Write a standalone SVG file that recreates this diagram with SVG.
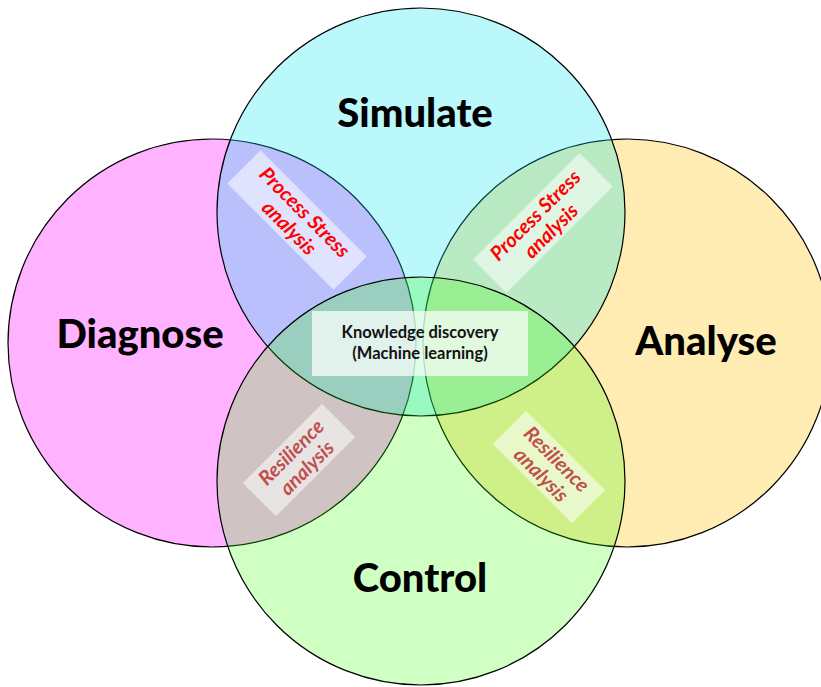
<svg xmlns="http://www.w3.org/2000/svg" width="821" height="687" viewBox="0 0 821 687">
  <style>
    .ring { stroke: #000; stroke-width: 1.2; }
    .big { font-family: Lato, "Liberation Sans", sans-serif; font-weight: 900; font-size: 40px; fill: #000; text-anchor: middle; }
    .tag { fill: #fff; fill-opacity: 0.55; }
    .note { font-family: Lato, "Liberation Sans", sans-serif; font-weight: bold; font-style: italic; font-size: 20px; text-anchor: middle; }
    .stress { fill: #ff0000; }
    .resil { fill: #c0504d; }
    .core { font-family: Lato, "Liberation Sans", sans-serif; font-weight: bold; font-size: 16.5px; fill: #111; text-anchor: middle; }
  </style>
  <rect width="821" height="687" fill="#fff"/>

  <!-- four overlapping translucent circles -->
  <g id="diagnose">
    <circle class="ring" cx="212" cy="343" r="204" fill="#ff00ff" fill-opacity="0.3"/>
  </g>
  <g id="analyse">
    <circle class="ring" cx="627" cy="343" r="204" fill="#ffc000" fill-opacity="0.3"/>
  </g>
  <g id="simulate">
    <circle class="ring" cx="421" cy="212" r="204" fill="#00e6f0" fill-opacity="0.27"/>
  </g>
  <g id="control">
    <circle class="ring" cx="421" cy="481" r="204" fill="#33ff00" fill-opacity="0.235"/>
  </g>

  <!-- circle titles -->
  <g id="labels">
    <text class="big" x="415" y="127">Simulate</text>
    <text class="big" x="140" y="348">Diagnose</text>
    <text class="big" x="706" y="355">Analyse</text>
    <text class="big" x="420" y="592">Control</text>
  </g>

  <!-- overlap notes -->
  <g id="stress-left" transform="translate(297,220) rotate(45)">
    <rect class="tag" x="-75" y="-23.5" width="150" height="47"/>
    <text class="note stress" x="0" y="-4">Process Stress</text>
    <text class="note stress" x="0" y="18">analysis</text>
  </g>
  <g id="stress-right" transform="translate(543,223) rotate(-45)">
    <rect class="tag" x="-75" y="-23.5" width="150" height="47"/>
    <text class="note stress" x="0" y="-4">Process Stress</text>
    <text class="note stress" x="0" y="18">analysis</text>
  </g>
  <g id="resilience-left" transform="translate(299,460) rotate(-45)">
    <rect class="tag" x="-56" y="-23.5" width="112" height="47"/>
    <text class="note resil" x="0" y="-4">Resilience</text>
    <text class="note resil" x="0" y="18">analysis</text>
  </g>
  <g id="resilience-right" transform="translate(549,467) rotate(45)">
    <rect class="tag" x="-56" y="-23.5" width="112" height="47"/>
    <text class="note resil" x="0" y="-4">Resilience</text>
    <text class="note resil" x="0" y="18">analysis</text>
  </g>

  <!-- central overlap -->
  <g id="knowledge">
    <rect x="312" y="311" width="216" height="65" fill="#fff" fill-opacity="0.7"/>
    <text class="core" x="420" y="338">Knowledge discovery</text>
    <text class="core" x="420" y="359">(Machine learning)</text>
  </g>
</svg>
